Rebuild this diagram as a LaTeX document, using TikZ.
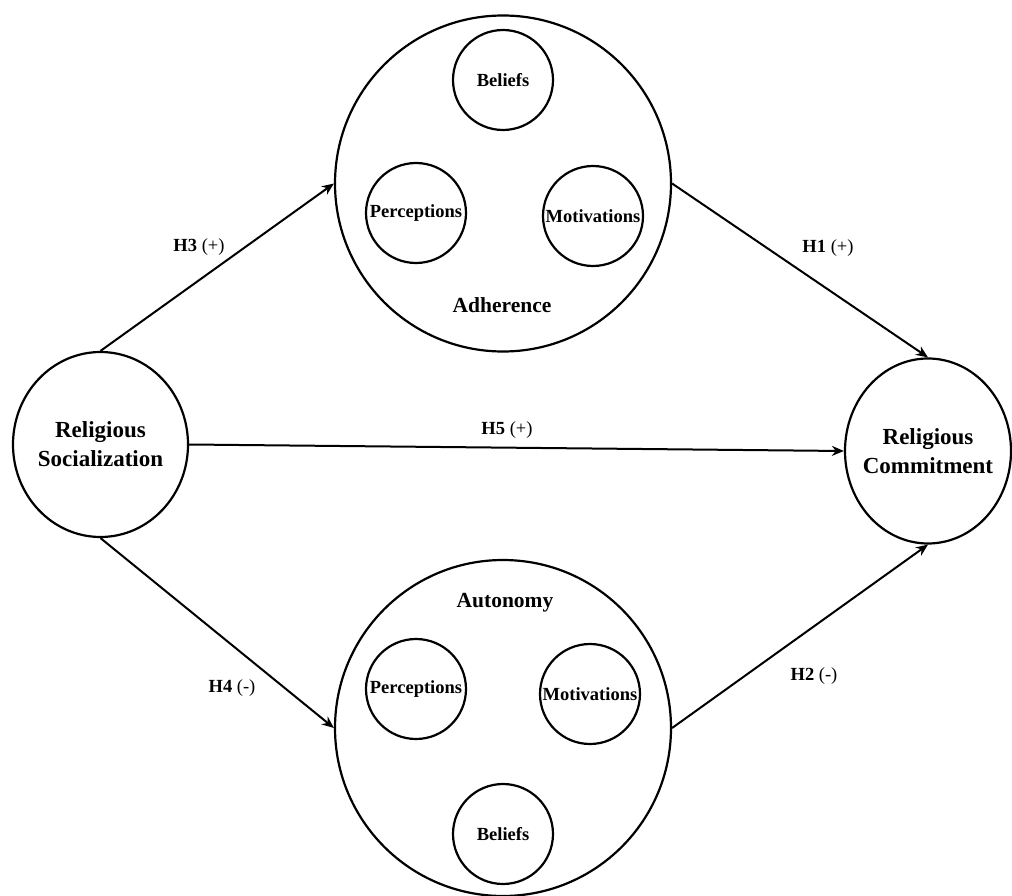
\documentclass[tikz,border=0pt]{standalone}
\usepackage{fontspec}
\setmainfont{Liberation Serif}
\usepackage{tikz}
\usetikzlibrary{positioning, arrows.meta, shapes.geometric}
\tikzset{
  bigcirc/.style={draw, circle, line width=2.2pt, minimum size=336pt, inner sep=0pt},
  subcirc/.style={draw, circle, line width=2.2pt, minimum size=100pt, inner sep=0pt,
    font=\fontsize{18.5}{22}\selectfont\bfseries},
  endcirc/.style={draw, ellipse, line width=2.2pt, inner sep=0pt},
  endtxt/.style={align=center, font=\fontsize{23}{29}\selectfont\bfseries},
  grouplab/.style={font=\fontsize{21.5}{26}\selectfont\bfseries},
  hyp/.style={-{Stealth[length=12pt,width=10pt]}, line width=2pt},
  hyplab/.style={font=\fontsize{18.5}{22}\selectfont, inner sep=1pt},
}
\begin{document}
\begin{tikzpicture}[x=1pt, y=-1pt]
  \useasboundingbox (0,0) rectangle (1012,896);
  % outer constructs
  \node[endcirc, minimum width=175pt, minimum height=185pt,
    label={[endtxt]center:Religious\\Socialization}] (soc) at (100.5,444.5) {};
  \node[endcirc, minimum width=166pt, minimum height=185pt,
    label={[endtxt]center:Religious\\Commitment}] (com) at (928,451) {};
  % mediators
  \node[bigcirc] (adh) at (503,183.5) {};
  \node[subcirc] (adhbel) at (503,80) {Beliefs};
  \node[subcirc] (adhper) at (416,213) {Perceptions};
  \node[subcirc] (adhmot) at (593,216) {Motivations};
  \node[grouplab] (adhlab) at (502,305) {Adherence};
  \node[bigcirc] (aut) at (503,728) {};
  \node[subcirc] (autper) at (416,689) {Perceptions};
  \node[subcirc] (autmot) at (590,694) {Motivations};
  \node[subcirc] (autbel) at (503,834) {Beliefs};
  \node[grouplab] (autlab) at (505,603) {Autonomy};
  % paths
  \draw[hyp] (soc.north) -- (adh.west);
  \draw[hyp] (adh.east) -- (com.north);
  \draw[hyp] (soc.east) -- (com.west);
  \draw[hyp] (soc.south) -- (aut.west);
  \draw[hyp] (aut.east) -- (com.south);
  \node[hyplab] (h3) at (199,247) {\textbf{H3} (+)};
  \node[hyplab] (h1) at (828,248) {\textbf{H1} (+)};
  \node[hyplab] (h5) at (507,430) {\textbf{H5} (+)};
  \node[hyplab] (h4) at (232,688) {\textbf{H4} (-)};
  \node[hyplab] (h2) at (814,676) {\textbf{H2} (-)};
\end{tikzpicture}
\end{document}
